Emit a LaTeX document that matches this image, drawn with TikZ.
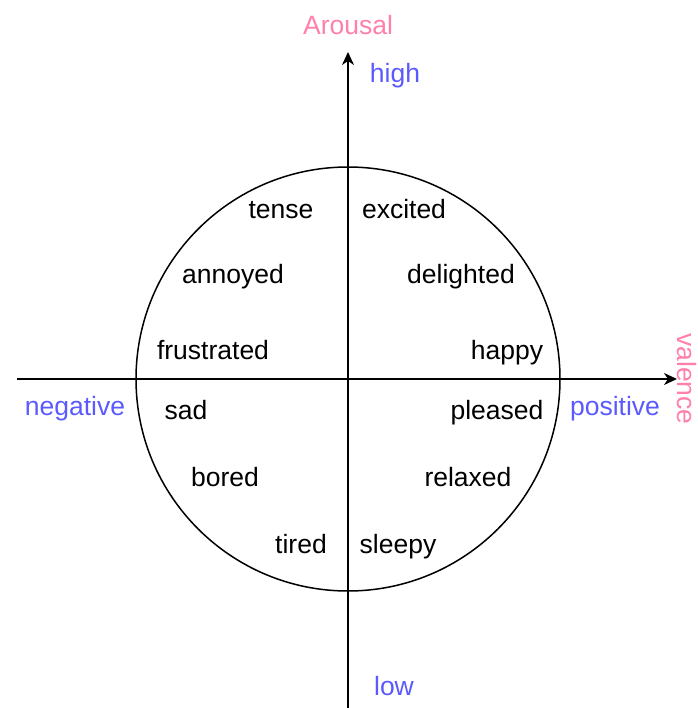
\documentclass[tikz,border=0pt]{standalone}
\usepackage{fontspec}
\setmainfont{Liberation Sans}
\usetikzlibrary{arrows.meta}
\definecolor{pinklab}{RGB}{255,128,170}
\definecolor{bluelab}{RGB}{90,90,255}
\begin{document}
\begin{tikzpicture}[x=1pt,y=-1pt,
  lab/.style={font=\fontsize{26.5}{28}\selectfont, inner sep=0pt, anchor=base},
  emo/.style={lab, text=black},
  pole/.style={lab, text=bluelab},
  axname/.style={lab, text=pinklab},
  axis/.style={line width=1.5pt, -{Stealth[length=13pt,width=12pt,inset=4pt]}}]
\useasboundingbox (0,0) rectangle (697,708);
\coordinate (O) at (348,379);
\coordinate (ybot) at (348,708);
\coordinate (ytop) at (348,52);
\coordinate (xl) at (17,379);
\coordinate (xr) at (677,379);
\draw[line width=1.5pt] (O) circle (212);
\draw[axis] (ybot) -- (ytop);
\draw[axis] (xl) -- (xr);
\node[axname] (arousal) at (348,35) {Arousal};
\node[axname, rotate=-90, anchor=center] (valence) at (686.5,379) {valence};
\node[pole] (high) at (395,83) {high};
\node[pole] (low) at (394,695) {low};
\node[pole] (neg) at (75,415) {negative};
\node[pole] (pos) at (615,415) {positive};
\node[emo] (tense) at (281,219) {tense};
\node[emo] (excited) at (404,219) {excited};
\node[emo] (annoyed) at (233,283) {annoyed};
\node[emo] (delighted) at (461,283) {delighted};
\node[emo] (frustrated) at (213,359) {frustrated};
\node[emo] (happy) at (507,359) {happy};
\node[emo] (sad) at (186,419) {sad};
\node[emo] (pleased) at (497,419) {pleased};
\node[emo] (bored) at (225,486) {bored};
\node[emo] (relaxed) at (468,486) {relaxed};
\node[emo] (tired) at (301,553) {tired};
\node[emo] (sleepy) at (398,553) {sleepy};
\end{tikzpicture}
\end{document}
